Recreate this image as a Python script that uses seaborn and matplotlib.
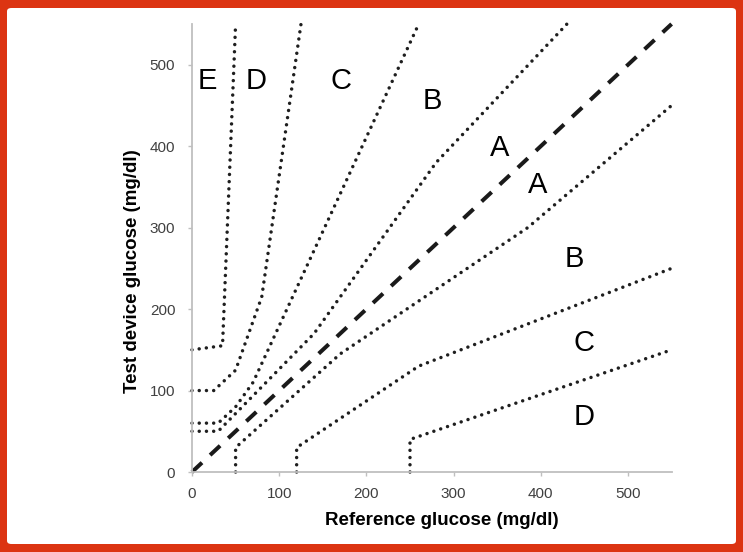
import matplotlib
matplotlib.use("Agg")
import matplotlib.pyplot as plt
from matplotlib.patches import FancyBboxPatch
import seaborn as sns
import pandas as pd

# ---- data: Parkes error grid zone boundaries (mg/dl) ----
upper_A_x = [0, 30, 140, 280, 430]
upper_A_y = [50, 50, 170, 380, 550]
lower_A_x = [50, 50, 170, 385, 550]
lower_A_y = [0, 30, 145, 300, 450]
upper_B_x = [0, 30, 50, 70, 260]
upper_B_y = [60, 60, 80, 110, 550]
lower_B_x = [120, 120, 260, 550]
lower_B_y = [0, 30, 130, 250]
upper_C_x = [0, 25, 50, 80, 125]
upper_C_y = [100, 100, 125, 215, 550]
lower_C_x = [250, 250, 550]
lower_C_y = [0, 40, 150]
upper_D_x = [0, 35, 50]
upper_D_y = [150, 155, 550]
identity_x = [0, 550]
identity_y = [0, 550]

zone_labels = ["E", "D", "C", "B", "A", "A", "B", "C", "D"]
zone_label_x = [18, 74, 171, 276, 353, 396, 438, 450, 450]
zone_label_y = [480, 480, 480, 456, 398, 352, 262, 158, 67]

ticks = [0, 100, 200, 300, 400, 500]

# ---- style ----
sns.set_theme(style="white")
plt.rcParams["font.family"] = ["Liberation Sans", "DejaVu Sans"]

fig = plt.figure(figsize=(7.43, 5.52), dpi=100)
fig.patch.set_facecolor("#dc3412")
W, H = 743, 552
fig.add_artist(FancyBboxPatch((7 / W, 8 / H), (W - 14) / W, (H - 16) / H,
                              boxstyle="round,pad=0,rounding_size=0.006",
                              transform=fig.transFigure, facecolor="white",
                              edgecolor="none", zorder=-1))

ax = fig.add_axes([192 / W, (H - 472) / H, 479.6 / W, 448 / H])
ax.set_facecolor("white")

segments = [(upper_A_x, upper_A_y), (lower_A_x, lower_A_y),
            (upper_B_x, upper_B_y), (lower_B_x, lower_B_y),
            (upper_C_x, upper_C_y), (lower_C_x, lower_C_y),
            (upper_D_x, upper_D_y)]

for xs, ys in segments:
    df = pd.DataFrame({"x": xs, "y": ys})
    n0 = len(ax.lines)
    sns.lineplot(data=df, x="x", y="y", ax=ax, sort=False, estimator=None,
                 color="#1e1e1e", linewidth=2.5, linestyle=(0, (0.01, 2.07)),
                 clip_on=False)
    for ln in ax.lines[n0:]:
        ln.set_dash_capstyle("round")

df_id = pd.DataFrame({"x": identity_x, "y": identity_y})
sns.lineplot(data=df_id, x="x", y="y", ax=ax, sort=False, estimator=None,
             color="#1a1a1a", linewidth=2.9, linestyle=(0, (3.4, 2.75)),
             clip_on=False)

for lab, lx, ly in zip(zone_labels, zone_label_x, zone_label_y):
    ax.text(lx, ly, lab, fontsize=21, ha="center", va="center", color="black")

ax.set_xlim(0, 550)
ax.set_ylim(0, 550)
ax.set_xticks(ticks)
ax.set_yticks(ticks)
ax.set_xticklabels([str(t) for t in ticks])
ax.set_yticklabels([str(t) for t in ticks])

for side in ["top", "right"]:
    ax.spines[side].set_visible(False)
for side in ["left", "bottom"]:
    ax.spines[side].set_color("#bfbfbf")
    ax.spines[side].set_linewidth(1.3)

ax.tick_params(axis="both", which="major", direction="out", length=3,
               width=1, color="#bfbfbf", labelsize=11, labelcolor="#404040",
               bottom=True, left=True)
ax.tick_params(axis="x", pad=8)
ax.tick_params(axis="y", pad=9)

ax.set_xlabel("Reference glucose (mg/dl)", fontsize=13.5, fontweight="bold",
              color="black")
ax.set_ylabel("Test device glucose (mg/dl)", fontsize=13.5, fontweight="bold",
              color="black")
ax.xaxis.set_label_coords(0.52, -0.09)
ax.yaxis.set_label_coords(-0.106, 0.449)

fig.savefig("out.png", dpi=100, facecolor=fig.get_facecolor())
